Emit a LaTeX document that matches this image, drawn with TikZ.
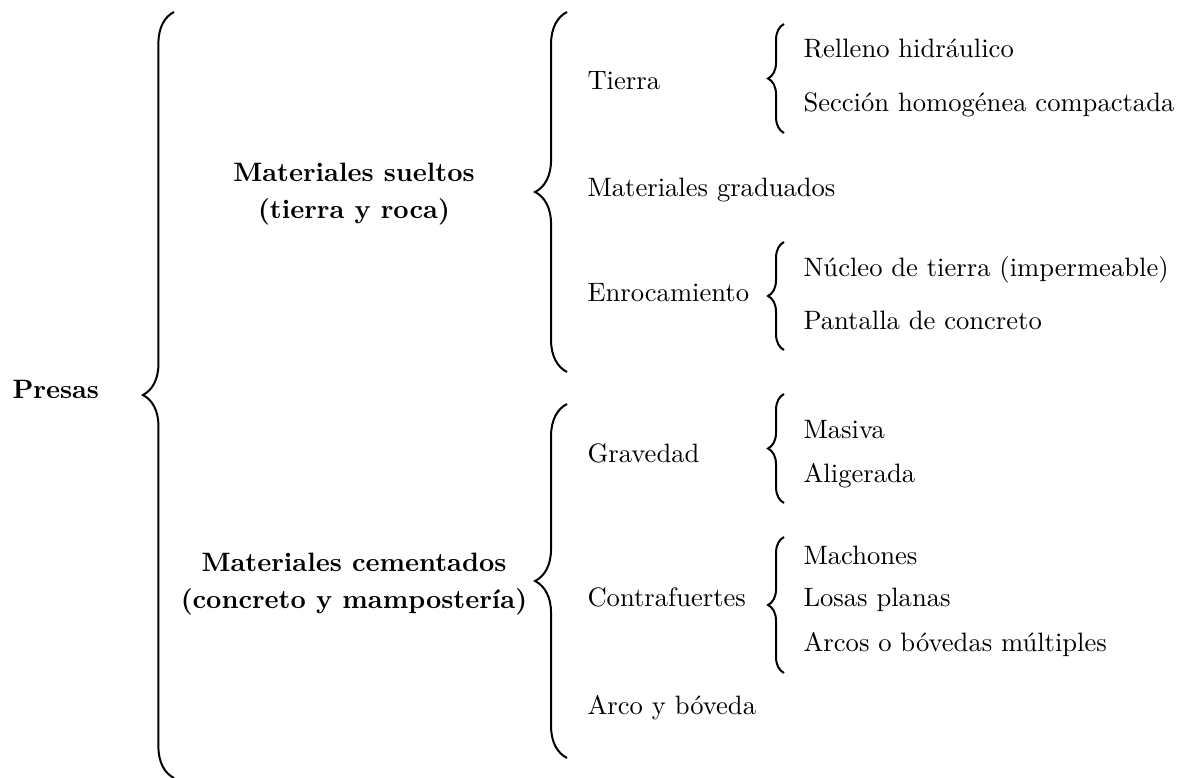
\documentclass[tikz,border=0pt]{standalone}
\usepackage{tikz}
\usetikzlibrary{positioning, decorations.pathreplacing}
\tikzset{
	rootnode/.style={
			font=\bfseries,
			inner sep=0pt,
			anchor=base west
		},
	groupnode/.style={
			font=\bfseries,
			align=center,
			inner sep=0pt
		},
	itemnode/.style={
			inner sep=0pt,
			anchor=base west
		},
	bigbrace/.style={
			decorate,
			decoration={brace, amplitude=11.7pt},
			line width=0.75pt
		},
	midbrace/.style={
			bigbrace,
			decoration={brace, amplitude=12pt}
		},
	smallbrace/.style={
			bigbrace,
			decoration={brace, amplitude=6pt}
		}
}

\begin{document}
\begin{tikzpicture}[x=0.376pt, y=-0.376pt]
\useasboundingbox (0,0) rectangle (1181,778);

% level 0 and 1
\node[rootnode] (presas) at (12,399) {Presas};
\node[groupnode] (sueltos) at (354,194) {Materiales sueltos\\[2pt](tierra y roca)};
\node[groupnode] (cementados) at (354,584) {Materiales cementados\\[2pt](concreto y mampostería)};

% level 2
\node[itemnode] (tierra) at (587,90) {Tierra};
\node[itemnode] (graduados) at (587,197) {Materiales graduados};
\node[itemnode] (enroc) at (587,302) {Enrocamiento};
\node[itemnode] (gravedad) at (587,463) {Gravedad};
\node[itemnode] (contraf) at (587,607) {Contrafuertes};
\node[itemnode] (arco) at (587,715) {Arco y bóveda};

% level 3
\node[itemnode] (relleno) at (803,58) {Relleno hidráulico};
\node[itemnode] (seccion) at (803,112) {Sección homogénea compactada};
\node[itemnode] (nucleo) at (803,277) {Núcleo de tierra (impermeable)};
\node[itemnode] (pantalla) at (803,330) {Pantalla de concreto};
\node[itemnode] (masiva) at (803,439) {Masiva};
\node[itemnode] (aligerada) at (803,483) {Aligerada};
\node[itemnode] (machones) at (803,565) {Machones};
\node[itemnode] (losas) at (803,607) {Losas planas};
\node[itemnode] (arcos) at (803,652) {Arcos o bóvedas múltiples};

% brace ends
\coordinate (presas-top) at (174,12);
\coordinate (presas-bot) at (174,778);
\coordinate (sueltos-top) at (567,12);
\coordinate (sueltos-bot) at (567,372);
\coordinate (cementados-top) at (567,404);
\coordinate (cementados-bot) at (567,758);
\coordinate (tierra-top) at (784,24);
\coordinate (tierra-bot) at (784,133);
\coordinate (enroc-top) at (784,242);
\coordinate (enroc-bot) at (784,350);
\coordinate (gravedad-top) at (784,394);
\coordinate (gravedad-bot) at (784,503);
\coordinate (contraf-top) at (784,537);
\coordinate (contraf-bot) at (784,673);

\draw[bigbrace] (presas-bot) -- (presas-top);
\draw[midbrace] (sueltos-bot) -- (sueltos-top);
\draw[midbrace] (cementados-bot) -- (cementados-top);
\draw[smallbrace] (tierra-bot) -- (tierra-top);
\draw[smallbrace] (enroc-bot) -- (enroc-top);
\draw[smallbrace] (gravedad-bot) -- (gravedad-top);
\draw[smallbrace] (contraf-bot) -- (contraf-top);
\end{tikzpicture}
\end{document}
